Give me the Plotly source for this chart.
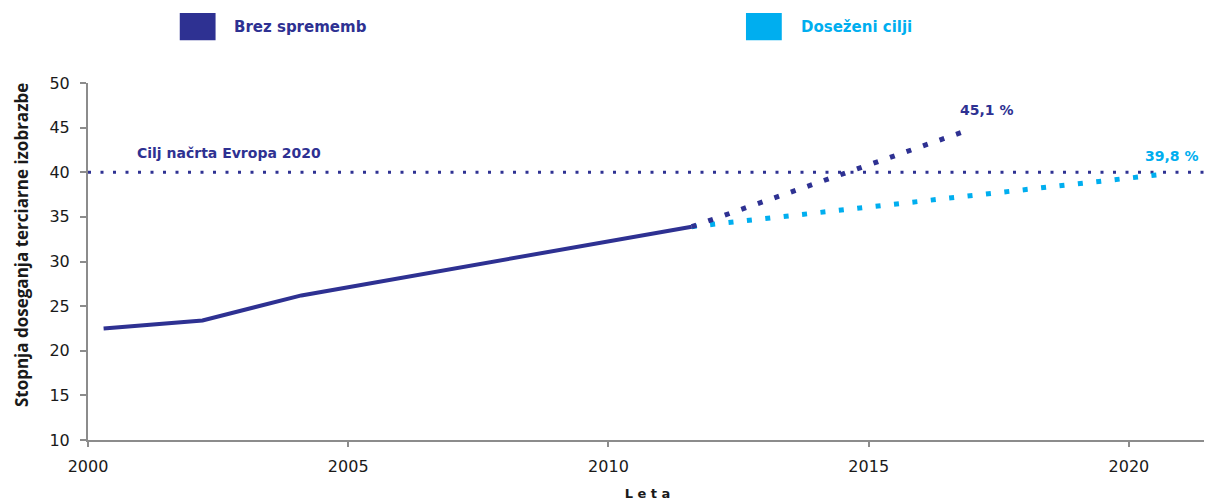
import plotly.graph_objects as go

# observed series (rate of tertiary attainment, %)
hist_years = [2000.3, 2002.2, 2004.1, 2011.6]
hist_vals = [22.5, 23.4, 26.2, 33.9]

# projection: no change
nochange_years = [2011.6, 2016.9]
nochange_vals = [33.9, 44.7]

# projection: targets reached
target_years = [2011.6, 2020.7]
target_vals = [33.9, 39.8]

goal_value = 40
x_range = [2000, 2021.5]
y_ticks = [10, 15, 20, 25, 30, 35, 40, 45, 50]
x_ticks = [2000, 2005, 2010, 2015, 2020]

DARK = "#2E3192"
LIGHT = "#00AEEF"
AXIS = "#8C8C8C"

fig = go.Figure()

# goal line at 40 %
fig.add_trace(go.Scatter(
    x=x_range, y=[goal_value, goal_value], mode="lines",
    line=dict(color=DARK, width=3, dash="3px,9.5px"),
    hoverinfo="skip", showlegend=False))

fig.add_trace(go.Scatter(
    x=target_years, y=target_vals, mode="lines",
    line=dict(color=LIGHT, width=5, dash="5px,13.5px"),
    showlegend=False))

fig.add_trace(go.Scatter(
    x=nochange_years, y=nochange_vals, mode="lines",
    line=dict(color=DARK, width=5, dash="5px,12.5px"),
    showlegend=False))

fig.add_trace(go.Scatter(
    x=hist_years, y=hist_vals, mode="lines",
    line=dict(color=DARK, width=4),
    showlegend=False))

# custom legend (squares + labels above the plot)
legend_items = [("Brez sprememb", DARK, 0.082), ("Doseženi cilji", LIGHT, 0.588)]
for name, col, x0 in legend_items:
    fig.add_shape(type="rect", xref="paper", yref="paper",
                  x0=x0, x1=x0 + 0.032, y0=1.120, y1=1.196,
                  fillcolor=col, line=dict(width=0))
    fig.add_annotation(xref="paper", yref="paper", x=x0 + 0.047, y=1.158,
                       text="<b>" + name + "</b>", showarrow=False,
                       xanchor="left", yanchor="middle",
                       font=dict(family="DejaVu Sans", size=15, color=col))

fig.add_annotation(x=2000.9, y=goal_value, yshift=19, text="<b>Cilj načrta Evropa 2020</b>",
                   showarrow=False, xanchor="left", yanchor="middle",
                   font=dict(family="DejaVu Sans", size=14, color=DARK))
fig.add_annotation(x=nochange_years[-1], y=nochange_vals[-1], xshift=-10, yshift=20,
                   text="<b>45,1 %</b>", showarrow=False, xanchor="left",
                   font=dict(family="DejaVu Sans", size=14, color=DARK))
fig.add_annotation(x=target_years[-1], y=target_vals[-1], xshift=-22, yshift=18,
                   text="<b>39,8 %</b>", showarrow=False, xanchor="left",
                   font=dict(family="DejaVu Sans", size=14, color=LIGHT))

# y-axis title placed as a rotated annotation
fig.add_annotation(xref="paper", yref="paper", x=0, xshift=-67, y=0.546,
                   text="<b>Stopnja doseganja terciarne izobrazbe</b>",
                   textangle=-90, showarrow=False, xanchor="center", yanchor="middle",
                   font=dict(family="Open Sans", size=17, color="#1a1a1a"))

# page body has an 8px margin, so the figure is sized to fit the window
fig.update_layout(
    width=1204, height=493,
    margin=dict(l=80, r=5, t=75, b=61),
    paper_bgcolor="white", plot_bgcolor="white",
    font=dict(family="DejaVu Sans", size=14, color="#1a1a1a"),
    showlegend=False,
)
fig.update_xaxes(
    range=x_range, tickvals=x_ticks, showgrid=False, zeroline=False,
    showline=True, linecolor=AXIS, linewidth=2, automargin=False,
    ticks="outside", tickcolor=AXIS, ticklen=5, tickwidth=2,
    ticklabelstandoff=6,
    tickfont=dict(family="DejaVu Sans", size=16),
    title=dict(text="<b>L e t a</b>", standoff=14,
               font=dict(family="DejaVu Sans", size=13, color="#1a1a1a")))
fig.update_yaxes(
    range=[10, 50], tickvals=y_ticks, showgrid=False, zeroline=False,
    showline=True, linecolor=AXIS, linewidth=2, automargin=False,
    ticks="outside", tickcolor=AXIS, ticklen=6, tickwidth=2,
    ticklabelstandoff=7,
    tickfont=dict(family="DejaVu Sans", size=16))

fig.write_html("out.html")
